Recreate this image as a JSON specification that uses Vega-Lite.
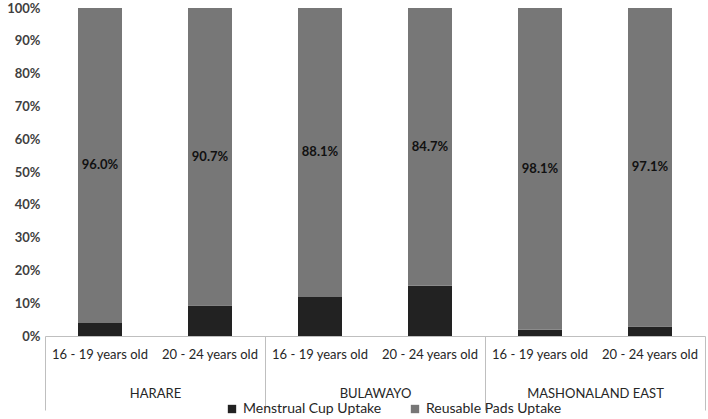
{
  "$schema": "https://vega.github.io/schema/vega-lite/v6.json",
  "autosize": "none",
  "padding": {"left": 45, "top": 8, "right": 3, "bottom": 83},
  "width": 660,
  "height": 328,
  "config": {
    "font": "Lato",
    "view": {"stroke": null},
    "axis": {"labelFont": "Lato", "titleFont": "Lato"},
    "axisY": {
      "tickCount": 10,
      "labelOverlap": false,
      "values": [0, 0.1, 0.2, 0.3, 0.4, 0.5, 0.6, 0.7, 0.8, 0.9, 1],
      "format": "%",
      "grid": false,
      "domain": false,
      "ticks": false,
      "labelPadding": 5,
      "labelFontSize": 13,
      "labelFontWeight": "bold",
      "labelColor": "#404040",
      "title": null
    },
    "legend": {"labelFont": "Lato"}
  },
  "data": {
    "values": [
      {"region": "HARARE", "age": "16 - 19 years old", "type": "Menstrual Cup Uptake", "value": 0.04},
      {"region": "HARARE", "age": "16 - 19 years old", "type": "Reusable Pads Uptake", "value": 0.96},
      {"region": "HARARE", "age": "20 - 24 years old", "type": "Menstrual Cup Uptake", "value": 0.093},
      {"region": "HARARE", "age": "20 - 24 years old", "type": "Reusable Pads Uptake", "value": 0.907},
      {"region": "BULAWAYO", "age": "16 - 19 years old", "type": "Menstrual Cup Uptake", "value": 0.119},
      {"region": "BULAWAYO", "age": "16 - 19 years old", "type": "Reusable Pads Uptake", "value": 0.881},
      {"region": "BULAWAYO", "age": "20 - 24 years old", "type": "Menstrual Cup Uptake", "value": 0.153},
      {"region": "BULAWAYO", "age": "20 - 24 years old", "type": "Reusable Pads Uptake", "value": 0.847},
      {"region": "MASHONALAND EAST", "age": "16 - 19 years old", "type": "Menstrual Cup Uptake", "value": 0.019},
      {"region": "MASHONALAND EAST", "age": "16 - 19 years old", "type": "Reusable Pads Uptake", "value": 0.981},
      {"region": "MASHONALAND EAST", "age": "20 - 24 years old", "type": "Menstrual Cup Uptake", "value": 0.029},
      {"region": "MASHONALAND EAST", "age": "20 - 24 years old", "type": "Reusable Pads Uptake", "value": 0.971}
    ]
  },
  "encoding": {
    "x": {
      "field": "region",
      "type": "nominal",
      "sort": ["HARARE", "BULAWAYO", "MASHONALAND EAST"],
      "scale": {"paddingInner": 0, "paddingOuter": 0},
      "axis": {
        "title": null,
        "labelAngle": 0,
        "tickBand": "extent",
        "tickSize": 74,
        "tickColor": "#bfbfbf",
        "domainColor": "#bfbfbf",
        "labelPadding": -23,
        "labelFontSize": 13,
        "labelColor": "#262626",
        "labelBaseline": "top"
      }
    },
    "xOffset": {
      "field": "age",
      "type": "nominal",
      "sort": ["16 - 19 years old", "20 - 24 years old"],
      "scale": {"paddingInner": 0.6, "paddingOuter": 0.3}
    }
  },
  "layer": [
    {
      "mark": {"type": "bar"},
      "encoding": {
        "y": {
          "field": "value",
          "type": "quantitative",
          "stack": "zero",
          "title": null,
          "scale": {"domain": [0, 1], "nice": false}
        },
        "order": {"field": "type", "sort": "ascending"},
        "color": {
          "field": "type",
          "type": "nominal",
          "scale": {
            "domain": ["Menstrual Cup Uptake", "Reusable Pads Uptake"],
            "range": ["#222222", "#777777"]
          },
          "legend": {
            "title": null,
            "orient": "none",
            "direction": "horizontal",
            "legendX": 180,
            "legendY": 394,
            "symbolType": "square",
            "symbolSize": 70,
            "labelFontSize": 14,
            "labelColor": "#262626",
            "columnPadding": 26
          }
        }
      }
    },
    {
      "transform": [
        {"stack": "value", "groupby": ["region", "age"], "sort": [{"field": "type"}], "as": ["v0", "v1"]},
        {"calculate": "(datum.v0 + datum.v1) / 2", "as": "mid"},
        {"filter": "datum.type === 'Reusable Pads Uptake'"}
      ],
      "mark": {"type": "text", "fontWeight": "bold", "fontSize": 13, "color": "#111111"},
      "encoding": {
        "y": {"field": "mid", "type": "quantitative", "title": null},
        "text": {"field": "value", "type": "quantitative", "format": ".1%"}
      }
    },
    {
      "transform": [
        {"filter": "datum.type === 'Menstrual Cup Uptake'"}
      ],
      "mark": {"type": "text", "fontSize": 13, "color": "#262626", "dy": 19},
      "encoding": {
        "y": {"datum": 0, "type": "quantitative", "title": null},
        "text": {"field": "age"}
      }
    }
  ]
}
